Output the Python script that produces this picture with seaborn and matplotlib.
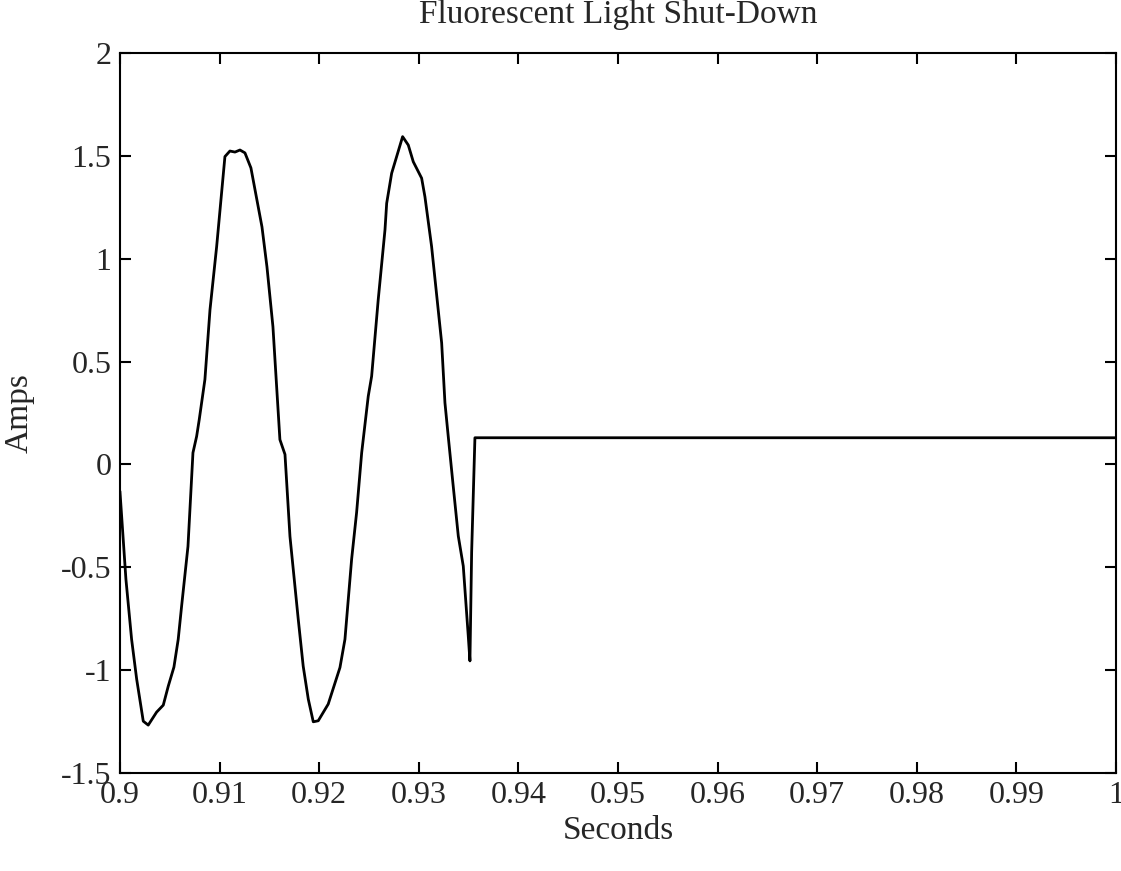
import numpy as np
import pandas as pd
import matplotlib.pyplot as plt
import seaborn as sns

# waveform
seconds = [0.90000, 0.90060, 0.90117, 0.90168, 0.90234, 0.90284, 0.90368, 0.90435,
           0.90485, 0.90542, 0.90585, 0.90619, 0.90683, 0.90733, 0.90770, 0.90796,
           0.90853, 0.90904, 0.90971, 0.91054, 0.91104, 0.91155, 0.91205, 0.91255,
           0.91315, 0.91426, 0.91476, 0.91536, 0.91606, 0.91657, 0.91707, 0.91790,
           0.91840, 0.91891, 0.91941, 0.91991, 0.92091, 0.92209, 0.92259, 0.92326,
           0.92376, 0.92427, 0.92493, 0.92527, 0.92593, 0.92661, 0.92678, 0.92728,
           0.92838, 0.92895, 0.92945, 0.93029, 0.93062, 0.93129, 0.93230, 0.93263,
           0.93296, 0.93346, 0.93397, 0.93447, 0.93497, 0.93514, 0.93531, 0.93564,
           1.00000]
amps = [-0.13, -0.558, -0.850, -1.044, -1.248, -1.267, -1.204, -1.170,
        -1.078, -0.985, -0.850, -0.689, -0.398, 0.057, 0.137, 0.218,
        0.413, 0.752, 1.060, 1.497, 1.524, 1.519, 1.529, 1.515,
        1.442, 1.155, 0.961, 0.670, 0.121, 0.049, -0.350, -0.752,
        -0.981, -1.141, -1.251, -1.246, -1.165, -0.987, -0.850, -0.461,
        -0.234, 0.057, 0.332, 0.429, 0.801, 1.141, 1.270, 1.416,
        1.594, 1.553, 1.472, 1.392, 1.302, 1.060, 0.591, 0.300,
        0.137, -0.105, -0.348, -0.494, -0.833, -0.955, -0.427, 0.130,
        0.130]

xticks = [0.9, 0.91, 0.92, 0.93, 0.94, 0.95, 0.96, 0.97, 0.98, 0.99, 1.0]
xticklabels = ['0.9', '0.91', '0.92', '0.93', '0.94', '0.95', '0.96', '0.97', '0.98', '0.99', '1']
yticks = [-1.5, -1, -0.5, 0, 0.5, 1, 1.5, 2]
yticklabels = ['-1.5', '-1', '-0.5', '0', '0.5', '1', '1.5', '2']

df = pd.DataFrame({'Seconds': seconds, 'Amps': amps})

sns.set_style('ticks')
plt.rcParams['font.family'] = ['Liberation Serif', 'DejaVu Serif']
plt.rcParams['xtick.direction'] = 'in'
plt.rcParams['ytick.direction'] = 'in'

fig = plt.figure(figsize=(11.21, 8.71), dpi=100)
ax = fig.add_axes([0.107, 0.1125, 0.8885, 0.8265])

sns.lineplot(data=df, x='Seconds', y='Amps', sort=False, estimator=None,
             color='black', linewidth=2, ax=ax)

ax.set_xlim(0.9, 1.0)
ax.set_ylim(-1.5, 2)
ax.set_xticks(xticks)
ax.set_xticklabels(xticklabels)
ax.set_yticks(yticks)
ax.set_yticklabels(yticklabels)
ax.tick_params(axis='both', labelsize=23, length=8, width=1.5, color='black',
               top=True, right=True, pad=6)
for s in ax.spines.values():
    s.set_visible(True)
    s.set_linewidth(1.5)
    s.set_color('black')

ax.set_title('Fluorescent Light Shut-Down', fontsize=24, pad=22)
ax.set_xlabel('Seconds', fontsize=24, labelpad=4)
ax.set_ylabel('Amps', fontsize=24, labelpad=19)

fig.savefig('out.png', dpi=100)
